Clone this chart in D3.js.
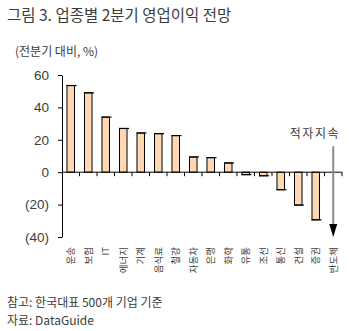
<!DOCTYPE html>
<html><head><meta charset="utf-8">
<script src="https://cdn.jsdelivr.net/npm/d3@7"></script>
<style>
html,body{margin:0;padding:0;background:#fff;}
svg{display:block;}
</style></head>
<body>
<script>
const categories = ["운송","보험","IT","에너지","기계","음식료","철강","자동차","은행","화학","유통","조선","통신","건설","증권","반도체"];
const values = [53.5, 49, 34, 27, 24.2, 23.8, 22.6, 9.4, 9, 5.7, -1.5, -2.2, -10.8, -20.3, -29.4, null];
const yTicks = [60, 40, 20, 0, -20, -40];
const title = "그림 3. 업종별 2분기 영업이익 전망";
const unitLabel = "(전분기 대비, %)";
const deficitLabel = "적자지속";
const deficitCategory = "반도체";
const arrowRange = [16, -40];
const notes = ["참고: 한국대표 500개 기업 기준", "자료: DataGuide"];

const W = 349, H = 331;
const svg = d3.select("body").append("svg").attr("width", W).attr("height", H);
const kr = "'Noto Sans CJK KR', 'Noto Sans', sans-serif";
const txt = "#3c3c3c";

svg.append("text").attr("x", 7).attr("y", 21).attr("font-family", kr).attr("font-size", 15.5)
  .attr("fill", txt).text(title);
svg.append("text").attr("x", 15).attr("y", 56).attr("font-family", kr).attr("font-size", 12)
  .attr("fill", txt).text(unitLabel);

const x = d3.scaleBand().domain(categories).range([62, 342]).paddingInner(0.57).paddingOuter(0.285);
const y = d3.scaleLinear().domain([-40, 60]).range([237, 75]);

// y axis
const yAxis = d3.axisLeft(y).tickValues(yTicks).tickSize(4).tickSizeOuter(0).tickPadding(9)
  .tickFormat(d => d < 0 ? "(" + Math.abs(d) + ")" : d);
const yg = svg.append("g").attr("transform", "translate(62,0)").call(yAxis);
yg.selectAll("text").attr("font-family", "'Liberation Sans', Arial, sans-serif").attr("font-size", 13.5).attr("fill", txt);
yg.selectAll("line,path").attr("stroke", "#000");

// bars
const data = categories.map((c, i) => ({c, v: values[i]})).filter(d => d.v !== null);
const bw = x.bandwidth();
svg.append("g").selectAll("rect").data(data).join("rect")
  .attr("x", d => x(d.c)).attr("width", bw)
  .attr("y", d => Math.min(y(d.v), y(0))).attr("height", d => Math.abs(y(d.v) - y(0)))
  .attr("fill", "#fdd8b3").attr("stroke", "#000").attr("stroke-width", 1);
svg.append("g").selectAll("line").data(data).join("line")
  .attr("x1", d => x(d.c) - 0.5).attr("x2", d => x(d.c) + bw + 2)
  .attr("y1", d => y(d.v)).attr("y2", d => y(d.v))
  .attr("stroke", "#000").attr("stroke-width", 1.2);

// x axis line at zero
const y0 = y(0);
svg.append("line").attr("x1", 62).attr("x2", 342).attr("y1", y0).attr("y2", y0).attr("stroke", "#000");
const half = (x.step() - bw) / 2;
svg.append("g").selectAll("line").data(categories).join("line")
  .attr("x1", d => x(d) + bw + half).attr("x2", d => x(d) + bw + half)
  .attr("y1", y0).attr("y2", y0 + 4).attr("stroke", "#000");

// x labels rotated
svg.append("g").selectAll("text").data(categories).join("text")
  .attr("transform", d => `translate(${x(d) + bw / 2},247) rotate(-90)`)
  .attr("text-anchor", "end").attr("dy", "0.35em")
  .attr("font-family", kr).attr("font-size", 9.5).attr("fill", txt)
  .text(d => d);

// deficit arrow
const ax = x(deficitCategory) + bw / 2;
svg.append("line").attr("x1", ax).attr("x2", ax).attr("y1", y(arrowRange[0])).attr("y2", y(arrowRange[1]) - 10)
  .attr("stroke", "#8a8a8a").attr("stroke-width", 2);
const tip = y(arrowRange[1]);
svg.append("path").attr("d", `M${ax - 4},${tip - 13}L${ax + 4},${tip - 13}L${ax},${tip}Z`).attr("fill", "#000");
svg.append("text").attr("x", 340).attr("y", 138).attr("text-anchor", "end")
  .attr("font-family", kr).attr("font-size", 12).attr("letter-spacing", 1.5).attr("fill", txt).text(deficitLabel);

// notes
svg.append("g").selectAll("text").data(notes).join("text")
  .attr("x", 7).attr("y", (d, i) => 307 + i * 18)
  .attr("font-family", kr).attr("font-size", 12).attr("fill", txt).text(d => d);
</script>
</body></html>
